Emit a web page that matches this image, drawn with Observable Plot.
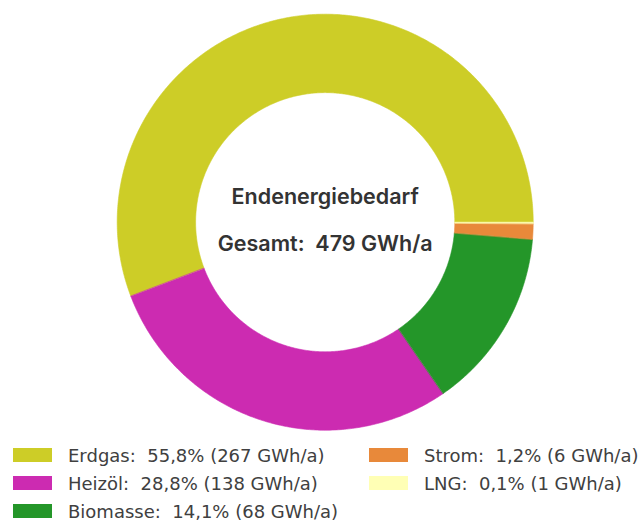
<!DOCTYPE html>
<html>
<head>
<meta charset="utf-8">
<script src="https://cdn.jsdelivr.net/npm/d3@7"></script>
<script src="https://cdn.jsdelivr.net/npm/@observablehq/plot@0.6"></script>
<style>
  html, body { margin: 0; padding: 0; background: #fff; }
  #wrap { position: relative; width: 638px; height: 520px; overflow: hidden; }
  #chart svg { display: block; white-space: pre; }
  #legend { position: absolute; left: 0; top: 0; width: 638px; height: 520px; font-family: "DejaVu Sans", sans-serif; color: #404040; }
  .item { position: absolute; display: flex; align-items: center; white-space: pre; font-size: 18px; }
  .sw { width: 39px; height: 14px; margin-right: 16px; }
</style>
</head>
<body>
<div id="wrap">
  <div id="chart"></div>
  <div id="legend"></div>
</div>
<script>
// ---- data ----
const categories = ["Erdgas", "Heizöl", "Biomasse", "Strom", "LNG"];
const percents = [55.8, 28.8, 14.1, 1.2, 0.1];
const gwh = [267, 138, 68, 6, 1];
const percentLabels = ["55,8%", "28,8%", "14,1%", "1,2%", "0,1%"];
const colors = ["#cdcd27", "#cc2bb1", "#249629", "#e8893a", "#ffffb5"];
const centerTitle = "Endenergiebedarf";
const centerTotal = "Gesamt:  479 GWh/a";

// ---- slice polygons (counterclockwise from 3 o'clock) ----
const innerRatio = 0.623;
const total = d3.sum(percents);
const polys = [];
let acc = 0;
categories.forEach((c, i) => {
  const a0 = acc / total * 2 * Math.PI;
  acc += percents[i];
  const a1 = acc / total * 2 * Math.PI;
  const n = Math.max(2, Math.ceil((a1 - a0) / 0.01));
  const pts = [];
  for (let k = 0; k <= n; k++) {
    const a = a0 + (a1 - a0) * k / n;
    pts.push({cat: c, x: Math.cos(a), y: Math.sin(a)});
  }
  for (let k = n; k >= 0; k--) {
    const a = a0 + (a1 - a0) * k / n;
    pts.push({cat: c, x: innerRatio * Math.cos(a), y: innerRatio * Math.sin(a)});
  }
  polys.push(...pts);
});

const cx = 324.7, cy = 221.7, R = 208;
const W = 638, H = 440;

const plot = Plot.plot({
  width: W,
  height: H,
  marginLeft: cx - R,
  marginRight: W - (cx + R),
  marginTop: cy - R,
  marginBottom: H - (cy + R),
  x: {domain: [-1, 1], axis: null},
  y: {domain: [-1, 1], axis: null},
  color: {domain: categories, range: colors},
  style: {fontFamily: "Inter, 'Open Sans', sans-serif", background: "#fff"},
  marks: [
    Plot.line(polys, {x: "x", y: "y", z: "cat", fill: "cat", stroke: "cat", strokeWidth: 0.6, curve: "linear-closed"}),
    Plot.text([centerTitle], {x: () => 0, y: () => 0, text: d => d, dy: -25, fontSize: 21.5, fontWeight: 600, fill: "#333"}),
    Plot.text([centerTotal], {x: () => 0, y: () => 0, text: d => d, dy: 22, fontSize: 21.5, fontWeight: 600, fill: "#333"})
  ]
});
document.getElementById("chart").appendChild(plot);

// ---- legend ----
const legend = document.getElementById("legend");
const pos = [
  {left: 13, top: 448}, {left: 13, top: 476}, {left: 13, top: 504},
  {left: 369, top: 448}, {left: 369, top: 476}
];
categories.forEach((c, i) => {
  const el = document.createElement("div");
  el.className = "item";
  el.style.left = pos[i].left + "px";
  el.style.top = (pos[i].top - 2) + "px";
  el.style.height = "18px";
  const sw = document.createElement("div");
  sw.className = "sw";
  sw.style.background = colors[i];
  const tx = document.createElement("span");
  tx.textContent = `${c}:  ${percentLabels[i]} (${gwh[i]} GWh/a)`;
  el.appendChild(sw);
  el.appendChild(tx);
  legend.appendChild(el);
});
</script>
</body>
</html>
